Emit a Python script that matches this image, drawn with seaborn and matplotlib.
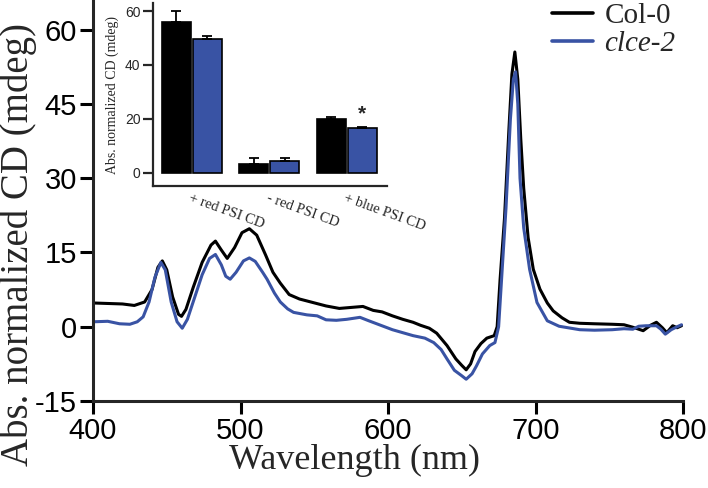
import numpy as np
import pandas as pd
import seaborn as sns
import matplotlib.pyplot as plt
from matplotlib.lines import Line2D

# CD spectra (wavelength nm -> mdeg)
col0_wl = [400, 410, 420, 428, 435, 440, 444, 447, 450, 454, 458, 460, 463, 468, 474, 480, 483, 487, 491,
           496, 501, 506, 511, 517, 522, 527, 533, 540, 549, 558, 567, 575, 583, 590, 596, 603, 610, 617,
           622, 628, 633, 640, 646, 650, 653, 656, 659, 663, 667, 672, 674, 676, 679, 682, 684, 686, 688,
           690, 692, 695, 698.5, 703, 708, 712, 718, 723, 730, 740, 752, 760, 766, 773, 778, 782, 786,
           789, 793, 796, 799]
col0_cd = [4.8, 4.7, 4.6, 4.3, 5.0, 7.5, 12, 13.3, 11.5, 6, 2.5, 2.1, 3.5, 8, 13, 16.5, 17.3, 15.5, 13.8,
           16, 19, 19.8, 18.5, 14.5, 11, 8.8, 6.5, 5.6, 4.9, 4.2, 3.7, 3.9, 4.1, 3.3, 3.0, 2.2, 1.5, 0.9,
           0.3, -0.3, -1.3, -3.8, -6.5, -7.8, -8.7, -7.5, -5, -3.4, -2.3, -1.8, 0, 9.6, 22, 40, 51, 55.5, 50,
           38, 28, 18, 11.6, 7.6, 4.8, 3.2, 1.8, 0.9, 0.7, 0.6, 0.5, 0.4, -0.1, -0.8, 0.3, 0.9, -0.2,
           -1.2, 0.2, -0.2, 0.2]

clce_wl = [400, 410, 418, 425, 430, 434, 438, 442, 446, 449, 453, 457, 460.5, 464, 469, 474, 479, 483, 487,
           490, 493, 497, 502, 506, 510, 515, 518, 523, 527, 532, 536, 545, 552, 558, 565, 572, 581, 587,
           595, 603, 610, 617, 625, 631, 636, 640, 645, 650, 653, 657, 660, 664, 669, 672.5, 675, 677, 680,
           683, 685, 686.5, 688, 689.5, 692, 696, 701, 708, 716, 730, 740, 752, 760, 766, 770, 775, 782,
           785, 788, 792, 796, 799]
clce_cd = [1.0, 1.1, 0.6, 0.5, 1.0, 2.0, 5, 10, 13.0, 11.5, 5, 1, -0.3, 1.5, 6, 10.5, 13.8, 14.6, 12.5,
           10.2, 9.6, 11, 13.3, 13.9, 13.2, 11, 9.6, 6.8, 5.0, 3.6, 2.9, 2.4, 2.2, 1.4, 1.3, 1.5, 1.9, 1.2,
           0.3, -0.6, -1.2, -1.8, -2.3, -3.2, -4.6, -6.5, -8.8, -9.9, -10.6, -9.5, -7.9, -5.5, -3.8, -3.2, 0,
           9.6, 24, 42, 50, 51.5, 45, 30, 20, 11.6, 4.9, 1.2, 0.1, -0.6, -0.7, -0.6, -0.4, -0.5, 0.1, 0.2,
           0.2, -0.5, -1.5, -0.6, 0.0, 0.4]

# inset bars
conditions = ["+ red PSI CD", "- red PSI CD", "+ blue PSI CD"]
col0_mean = [56.0, 3.1, 19.9]
col0_err = [4.1, 2.2, 0.6]
clce_mean = [49.5, 4.2, 16.5]
clce_err = [1.2, 1.1, 0.5]

BLACK = "#000000"
BLUE = "#3953a4"

sns.set_style("ticks")
plt.rcParams["font.family"] = ["Liberation Sans", "DejaVu Sans"]
plt.rcParams["axes.unicode_minus"] = False
serif = ["Liberation Serif", "DejaVu Serif"]

fig = plt.figure(figsize=(7.08, 4.88), dpi=100)
ax = fig.add_axes([93 / 708, 87 / 488, 590 / 708, 401 / 488])

sns.lineplot(x=col0_wl, y=col0_cd, color=BLACK, linewidth=2.2, ax=ax)
sns.lineplot(x=clce_wl, y=clce_cd, color=BLUE, linewidth=2.2, ax=ax)

ax.set_xlim(400, 800)
ax.set_ylim(-15, 66)
ax.set_xticks([400, 500, 600, 700, 800])
ax.set_yticks([-15, 0, 15, 30, 45, 60])
sns.despine(ax=ax)
for s in ["left", "bottom"]:
    ax.spines[s].set_linewidth(2.2)
ax.tick_params(direction="out", length=9.5, width=2.2, labelsize=21, pad=2, colors="black")
ax.set_xlabel("Wavelength (nm)", family=serif, fontsize=26)
ax.set_ylabel("Abs. normalized CD (mdeg)", family=serif, fontsize=28)
ax.xaxis.set_label_coords(0.444, -0.108)
ax.yaxis.set_label_coords(-0.095, 0.39)

handles = [Line2D([], [], color=BLACK, lw=2.6), Line2D([], [], color=BLUE, lw=2.6)]
leg = ax.legend(handles, ["Col-0", "clce-2"], loc="upper right", bbox_to_anchor=(1.012, 1.03),
                frameon=False, prop={"family": serif, "size": 21}, handlelength=1.4,
                handletextpad=0.4, labelspacing=0.05, borderpad=0)
leg.get_texts()[1].set_fontstyle("italic")

# inset bar chart
bars = pd.DataFrame({
    "condition": conditions * 2,
    "genotype": ["Col-0"] * 3 + ["clce-2"] * 3,
    "value": col0_mean + clce_mean,
})
ins = fig.add_axes([153 / 708, 302 / 488, 234 / 708, 183 / 488])
ins.set_facecolor("none")
sns.barplot(data=bars, x="condition", y="value", hue="genotype", palette=[BLACK, BLUE],
            saturation=1, edgecolor="black", linewidth=1.2, errorbar=None, width=0.8,
            gap=0.06, legend=False, ax=ins)
errs = col0_err + clce_err
means = col0_mean + clce_mean
for p, m, e in zip(ins.patches, means, errs):
    xc = p.get_x() + p.get_width() / 2
    ins.errorbar(xc, m, yerr=[[0], [e]], color="black", capsize=3.5, elinewidth=1.3,
                 capthick=1.3, zorder=3)
ins.text(2.2, 18.3, "*", ha="center", va="bottom", fontsize=15, fontweight="bold")
ins.set_ylim(-5, 63)
ins.set_xlim(-0.5, 2.52)
ins.set_yticks([0, 20, 40, 60])
sns.despine(ax=ins)
for s in ["left", "bottom"]:
    ins.spines[s].set_linewidth(1.6)
ins.tick_params(axis="y", direction="out", length=7, width=1.6, labelsize=10, pad=2)
ins.tick_params(axis="x", length=0, pad=4)
ins.set_xticks(range(3))
ins.set_xticklabels(conditions, rotation=-20, ha="left", rotation_mode="anchor",
                    family=serif, fontsize=10.5)
ins.set_xlabel("")
ins.set_ylabel("Abs. normalized CD (mdeg)", family=serif, fontsize=10)

fig.savefig("out.png", dpi=100)
